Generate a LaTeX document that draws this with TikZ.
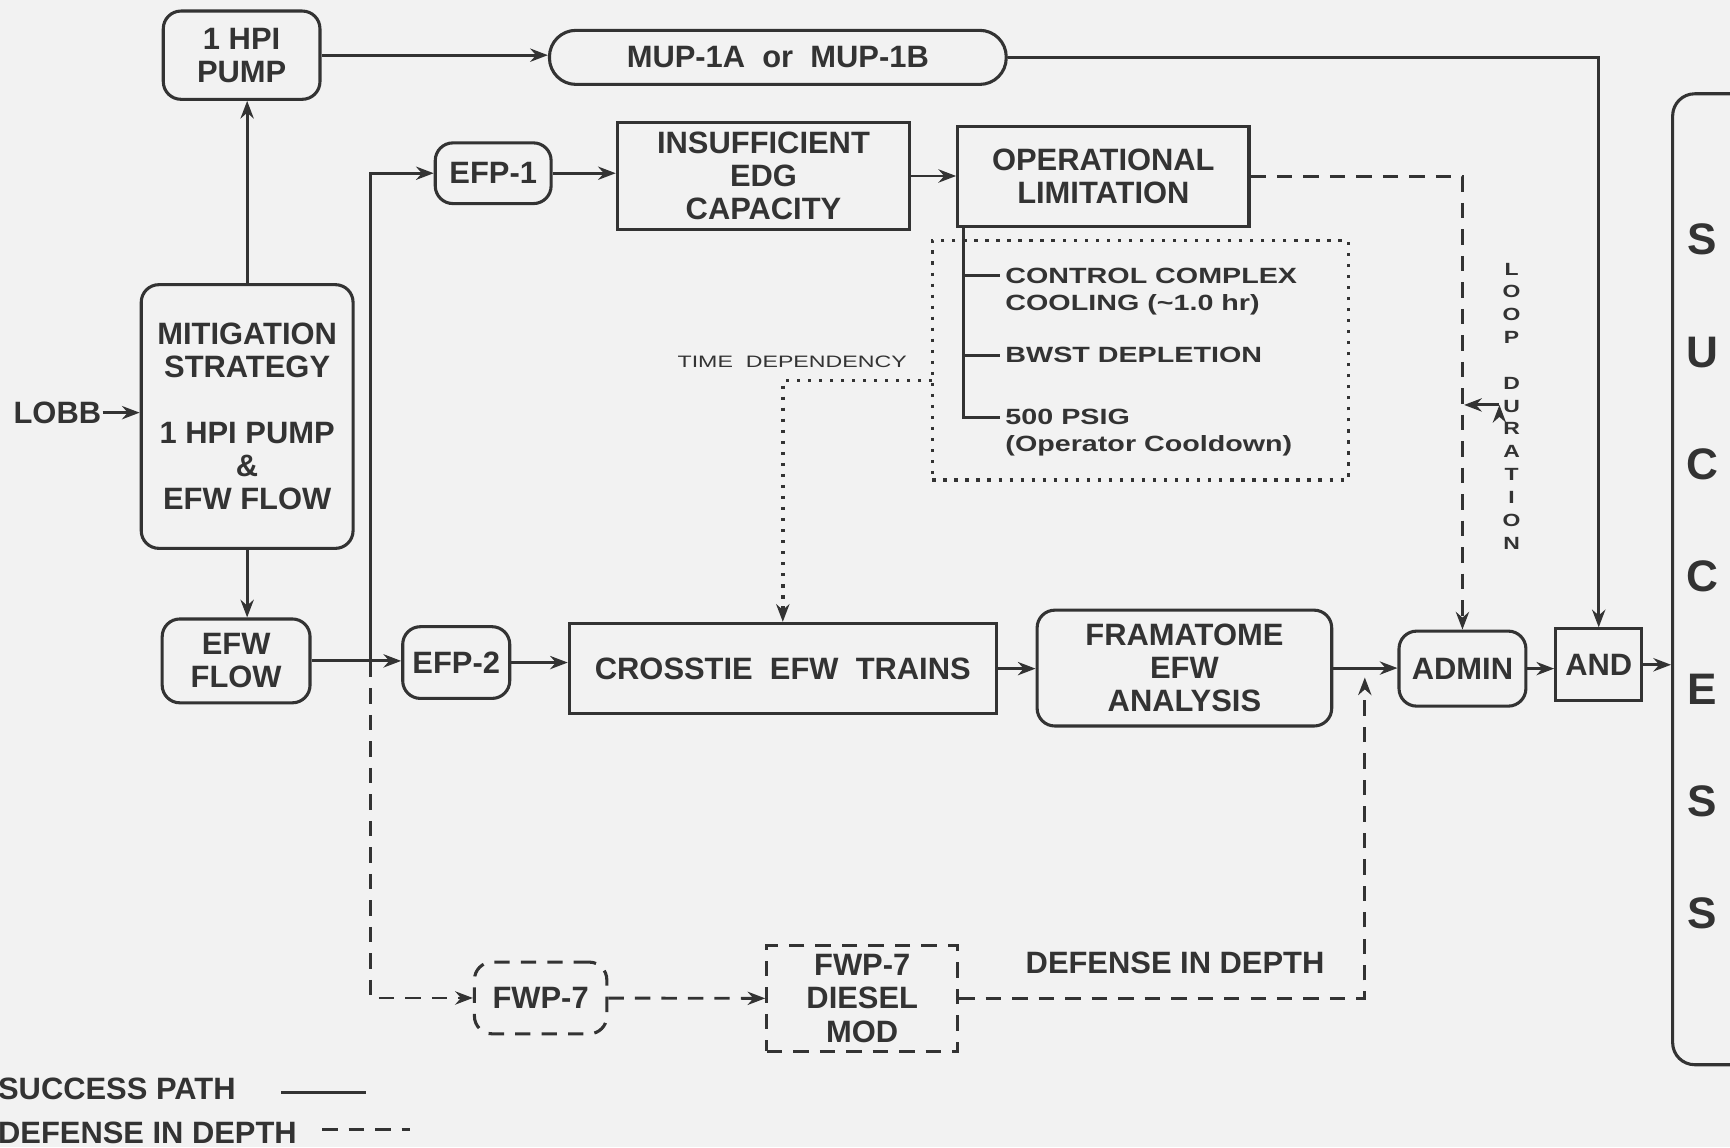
\documentclass[tikz,border=0pt]{standalone}
\usepackage{fontspec}
\setmainfont{Liberation Sans}
\newfontfamily\widefont[FakeStretch=1.3]{Liberation Sans}
\newfontfamily\xwidefont[FakeStretch=1.4]{Liberation Sans}
\usetikzlibrary{arrows.meta}

\begin{document}
\begin{tikzpicture}[x=0.5pt, y=-0.5pt, color=black!80, line width=1.3pt, >={Stealth[length=8pt, width=6pt]}]
  \tikzstyle{blk}       = [draw, line width=1.4pt, align=center, inner sep=0pt, font=\fontsize{14}{15}\selectfont\bfseries]
  \tikzstyle{blk_rnd}   = [blk, rounded corners=8pt]
  \tikzstyle{defense}   = [dash pattern=on 7pt off 5pt]
  \tikzstyle{blk_dash}  = [blk, defense]
  \tikzstyle{timedep}   = [dash pattern=on 1.5pt off 3.5pt, line width=1.6pt]
  \tikzstyle{note}      = [inner xsep=2pt, inner ysep=0pt, anchor=west, font=\widefont\fontsize{10}{13}\selectfont\bfseries]
  \tikzstyle{lbl}       = [inner sep=0pt, font=\fontsize{14}{15}\selectfont\bfseries]

  \useasboundingbox (0,0) rectangle (1568,1040);
  \fill[black!5] (0,0) rectangle (1568,1040);
  \clip (0,0) rectangle (1568,1040);

  \node[blk_rnd, minimum width=71pt,  minimum height=40pt]    at ( 219,  50)   (hpi)      {1 HPI\\PUMP};
  \node[blk, rounded corners=12pt, minimum width=207pt, minimum height=24.5pt] at ( 705,  52) (mup) {MUP-1A~~or~~MUP-1B};

  \node[blk_rnd, minimum width=52.5pt, minimum height=27.5pt] at ( 447, 157)   (efp1)     {EFP-1};
  \node[blk,     minimum width=132.5pt, minimum height=48.5pt] at ( 692, 159.5) (insuff)   {INSUFFICIENT\\EDG\\CAPACITY};
  \node[blk,     minimum width=132pt, minimum height=45pt]    at (1000, 160)   (oper)     {OPERATIONAL\\LIMITATION};

  \node[draw, timedep, inner sep=0pt, minimum width=188.5pt, minimum height=108.5pt] at (1033.5, 326.5) (lims) {};
  \node[note] at (906, 250) (ccc1)  {CONTROL COMPLEX};
  \node[note] at (906, 276) (ccc2)  {COOLING (\textasciitilde1.0 hr)};
  \node[note] at (906, 322) (bwst)  {BWST DEPLETION};
  \node[note] at (906, 378) (psig1) {500 PSIG};
  \node[note] at (906, 404) (psig2) {(Operator Cooldown)};

  \node[inner sep=0pt, font=\xwidefont\fontsize{7.5}{9}\selectfont] at (718, 328) (tdtxt) {TIME\ \ DEPENDENCY};

  \node[blk_rnd, minimum width=96pt,  minimum height=119.5pt] at ( 224, 377.5) (mitig)
    {MITIGATION\\STRATEGY\\[15pt]1 HPI PUMP\\\&\\EFW FLOW};
  \node[lbl] at (52, 374) (lobb) {LOBB};

  \node[blk_rnd, minimum width=67pt,  minimum height=38pt]    at ( 214, 599)   (efw)      {EFW\\FLOW};
  \node[blk_rnd, minimum width=48.5pt, minimum height=32.5pt] at ( 413.5, 600.5) (efp2)   {EFP-2};
  \node[blk,     minimum width=193.5pt, minimum height=41pt]  at ( 709.5, 606) (crosstie) {CROSSTIE~~EFW~~TRAINS};
  \node[blk_rnd, minimum width=133.5pt, minimum height=52.5pt] at (1073.5, 605.5) (fram)  {FRAMATOME\\EFW\\ANALYSIS};
  \node[blk_rnd, minimum width=57.5pt, minimum height=34pt]   at (1325.5, 606) (admin)    {ADMIN};
  \node[blk,     minimum width=39pt,  minimum height=32.5pt]  at (1449, 602.5) (and)      {AND};

  \node[blk, rounded corners=10pt, minimum width=37pt, minimum height=440pt] at (1553, 525) (succ) {};
  \node[inner sep=0pt, align=center, font=\fontsize{20}{50.9}\selectfont\bfseries] at (1543, 522.5) (succtxt)
    {S\\U\\C\\C\\E\\S\\S};

  \node[inner sep=0pt, align=center, font=\widefont\fontsize{8}{10.35}\selectfont\bfseries] at (1370, 368) (loopdur)
    {L\\O\\O\\P\\[10.35pt]D\\U\\R\\A\\T\\I\\O\\N};

  \node[blk_dash, rounded corners=8pt, minimum width=60pt, minimum height=32.5pt] at ( 490, 904.5) (fwp7)   {FWP-7};
  \node[blk_dash, minimum width=86.5pt, minimum height=48pt]  at ( 781.5, 905) (diesel)   {FWP-7\\DIESEL\\MOD};
  \node[lbl] at (1065, 873) (dindtxt) {DEFENSE IN DEPTH};

  \node[lbl, anchor=west] at (-3,  987) (lgsucc) {SUCCESS PATH};
  \node[lbl, anchor=west] at (-3, 1027) (lgdef)  {DEFENSE IN DEPTH};

  \coordinate (split)    at ( 336, 600);
  \coordinate (trunk)    at ( 873, 205);
  \coordinate (tdpt)     at ( 845, 345);
  \coordinate (ddcorner) at (1237, 905);
  \coordinate (ddtip)    at (1237, 614);
  \coordinate (loopin)   at (1327, 367);
  \coordinate (loopout)  at (1359, 367);
  \coordinate (lgs_a)    at ( 255, 990);
  \coordinate (lgs_b)    at ( 332, 990);
  \coordinate (lgd_a)    at ( 292, 1024);
  \coordinate (lgd_b)    at ( 372, 1024);

  \draw[->]
    (hpi)         edge (hpi -| mup.west)
    (mitig.north) edge (mitig.north |- hpi.south)
    (mitig.south) edge (mitig.south |- efw.north)
    (lobb)        edge (lobb -| mitig.west)
    (efw)         edge (efw -| efp2.west)
    (efp1)        edge (efp1 -| insuff.west)
    (insuff)      edge (insuff -| oper.west)
    (efp2)        edge (efp2 -| crosstie.west)
    (crosstie)    edge (crosstie -| fram.west)
    (fram)        edge (fram -| admin.west)
    (admin)       edge (admin -| and.west)
    (and)         edge (and -| succ.west)
    (loopout)     edge (loopin)
  ;

  \draw[->] (split) |- (efp1);
  \draw[->] (mup) -| (and);

  \draw[->, defense] (split) |- (fwp7);
  \draw[->, defense] (oper) -| (admin);
  \draw[->, defense] (fwp7) -- (diesel);
  \draw[->, defense] (diesel) -- (ddcorner) -- (ddtip);

  \draw[->, timedep] (tdpt) -| (crosstie);

  \draw (trunk) |- (psig1.west)
        (trunk |- ccc1.west) -- (ccc1.west)
        (trunk |- bwst.west) -- (bwst.west);

  \draw (lgs_a) -- (lgs_b);
  \draw[defense] (lgd_a) -- (lgd_b);
\end{tikzpicture}
\end{document}
